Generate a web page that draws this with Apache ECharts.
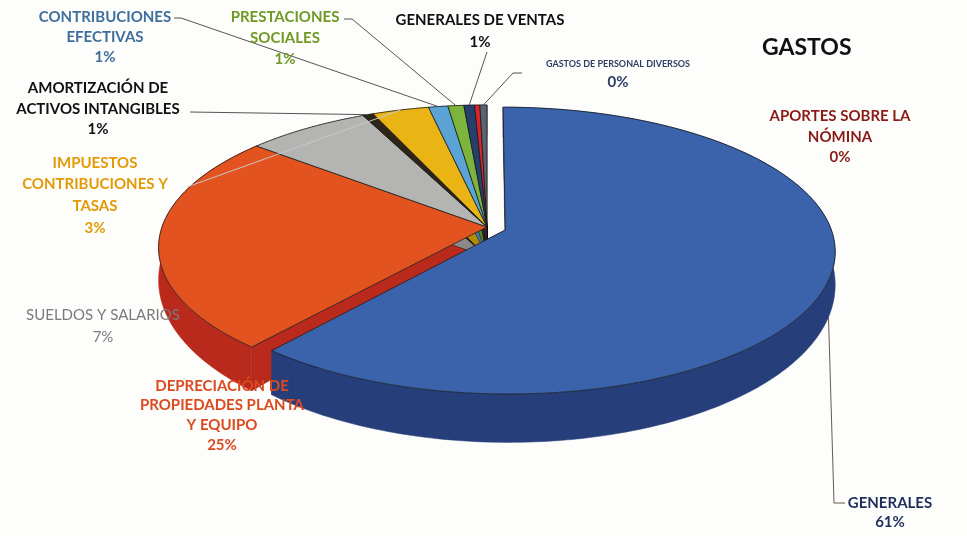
<!DOCTYPE html>
<html>
<head>
<meta charset="utf-8">
<title>Gastos</title>
<script src="https://cdn.jsdelivr.net/npm/echarts@6/dist/echarts.min.js"></script>
<style>
html,body{margin:0;padding:0;background:#fdfdfb;}
#main{width:967px;height:536px;}
</style>
</head>
<body>
<div id="main"></div>
<script>
// datos: porciones en sentido horario desde las 12
var nombres = ['GENERALES', 'DEPRECIACIÓN DE\nPROPIEDADES PLANTA\nY EQUIPO', 'SUELDOS Y SALARIOS',
    'AMORTIZACIÓN DE\nACTIVOS INTANGIBLES', 'IMPUESTOS\nCONTRIBUCIONES Y\nTASAS', 'CONTRIBUCIONES\nEFECTIVAS',
    'PRESTACIONES\nSOCIALES', 'GENERALES DE VENTAS', 'APORTES SOBRE LA\nNÓMINA', 'GASTOS DE PERSONAL DIVERSOS'];
var valores = [61.2, 24.8, 7.0, 0.6, 3.2, 1.1, 0.9, 0.6, 0.3, 0.4];

// estilos
var colores  = ['#3b63ab', '#e2531f', '#b4b4b2', '#2e2418', '#e9b414', '#5ba3d4', '#7db43c', '#263f6c', '#d6252b', '#5d6272'];
var lateral  = ['#263f7a', '#b92a1c', '#8a8a88', '#1a140c', '#b58a0a', '#3b7aa6', '#5a8a25', '#18294a', '#9e1a1e', '#3f4350'];
var colorTxt = ['#1f2f5c', '#dc4a1f', '#7a7a7a', '#111111', '#e39a06', '#3f6f9c', '#6f9a25', '#111111', '#8a1c17', '#2c3e64'];

// posición de etiquetas (centro x, borde superior y) y guías
var posEtiqueta = [[890, 494], [222, 376], [103, 304], [98, 78], [95, 152], [105, 7], [285, 7], [480, 9], [840, 106], [618, 58]];
var altoLinea = [19, 19.7, 22, 20.5, 21.7, 20, 21, 22, 20.5, 20];
var guias = [[[845, 503], [834, 503]], null, null, [[190, 112]], [[187, 187]], [[174, 18], [181, 18]],
    [[344, 19], [352, 19]], [[487, 52]], null, [[522, 73], [513, 73]]];
var colorGuia = ['#6b5a4a', null, null, '#555', '#c8c8c8', '#555', '#555', '#555', null, '#555'];

var total = valores.reduce(function (a, b) { return a + b; }, 0);
var acum = [0];
valores.forEach(function (v, i) { acum.push(acum[i] + v); });

// proyección en perspectiva del disco
var CX = 487, CY = 227, S = 325, ST = 139.6, K = 0.144, D = 30;
function proj(u, v) {
    var f = 1 / (1 - K * v);
    return [CX + S * u * f, CY + ST * v * f];
}
function prof(v) { return D * (1 + 0.6 * Math.max(v, 0)); }

function renderItem(params, api) {
    var i = params.dataIndex;
    var a0 = acum[i] / total * 2 * Math.PI, a1 = acum[i + 1] / total * 2 * Math.PI;
    var am = (a0 + a1) / 2;
    var e = i === 0 ? 0.06 : 0;
    var ou = e * Math.sin(am), ov = -e * Math.cos(am);
    function pt(r, a) {
        var u = ou + r * Math.sin(a), v = ov - r * Math.cos(a);
        return { p: proj(u, v), v: v };
    }
    var n = Math.max(2, Math.ceil((a1 - a0) / 0.02));
    var arriba = [], abajo = [];
    for (var j = 0; j <= n; j++) {
        var q = pt(1, a0 + (a1 - a0) * j / n);
        arriba.push(q.p);
        abajo.push([q.p[0], q.p[1] + prof(q.v)]);
    }
    var c = pt(0, 0);
    var cA = c.p, cB = [c.p[0], c.p[1] + prof(c.v)];
    var hijos = [];
    [0, n].forEach(function (j) {
        hijos.push({ type: 'polygon', z2: 1, shape: { points: [cA, arriba[j], abajo[j], cB] },
            style: { fill: lateral[i], stroke: 'rgba(0,0,0,0.5)', lineWidth: 0.6 } });
    });
    hijos.push({ type: 'polygon', z2: 2, shape: { points: arriba.concat(abajo.slice().reverse()) },
        style: { fill: lateral[i], stroke: lateral[i], lineWidth: 0.5 } });
    hijos.push({ type: 'polygon', z2: 3, shape: { points: [cA].concat(arriba) },
        style: { fill: colores[i], stroke: 'rgba(25,25,25,0.75)', lineWidth: 1 } });

    // guía
    if (guias[i]) {
        var m = pt(1, am);
        var fin = i === 0 ? [m.p[0], m.p[1] + prof(m.v)] : m.p;
        hijos.push({ type: 'polyline', z2: 5, shape: { points: guias[i].concat([fin]) },
            style: { stroke: colorGuia[i], lineWidth: 1, fill: null } });
    }

    // etiqueta
    var pct = Math.round(valores[i] / total * 100) + '%';
    var lh = altoLinea[i];
    var txt = nombres[i].split('\n').map(function (l) { return '{n|' + l + '}'; }).join('\n') + '\n{p|' + pct + '}';
    var fino = i === 2;
    var rich = {
        n: { fontSize: i === 9 ? 9 : 15, fontWeight: fino ? 'normal' : 'bold', fontFamily: 'Lato',
             fill: colorTxt[i], lineHeight: i === 9 ? 12 : lh, align: 'center' },
        p: { fontSize: 15, fontWeight: fino ? 'normal' : 'bold', fontFamily: 'Lato',
             fill: colorTxt[i], lineHeight: i === 9 ? 24 : lh, align: 'center' }
    };
    hijos.push({ type: 'text', z2: 6, x: posEtiqueta[i][0], y: posEtiqueta[i][1],
        style: { text: txt, rich: rich, align: 'center', verticalAlign: 'top' } });

    return { type: 'group', children: hijos };
}

var chart = echarts.init(document.getElementById('main'), null, { renderer: 'canvas' });
chart.setOption({
    backgroundColor: '#fdfdfb',
    animation: false,
    title: {
        text: 'GASTOS',
        left: 757,
        top: 31,
        textStyle: { fontSize: 23, fontWeight: 'bold', color: '#111', fontFamily: 'Lato' }
    },
    series: [{
        type: 'custom',
        coordinateSystem: 'none',
        renderItem: renderItem,
        data: valores.map(function (v, i) { return { value: v, name: nombres[i] }; })
    }]
});
</script>
</body>
</html>
